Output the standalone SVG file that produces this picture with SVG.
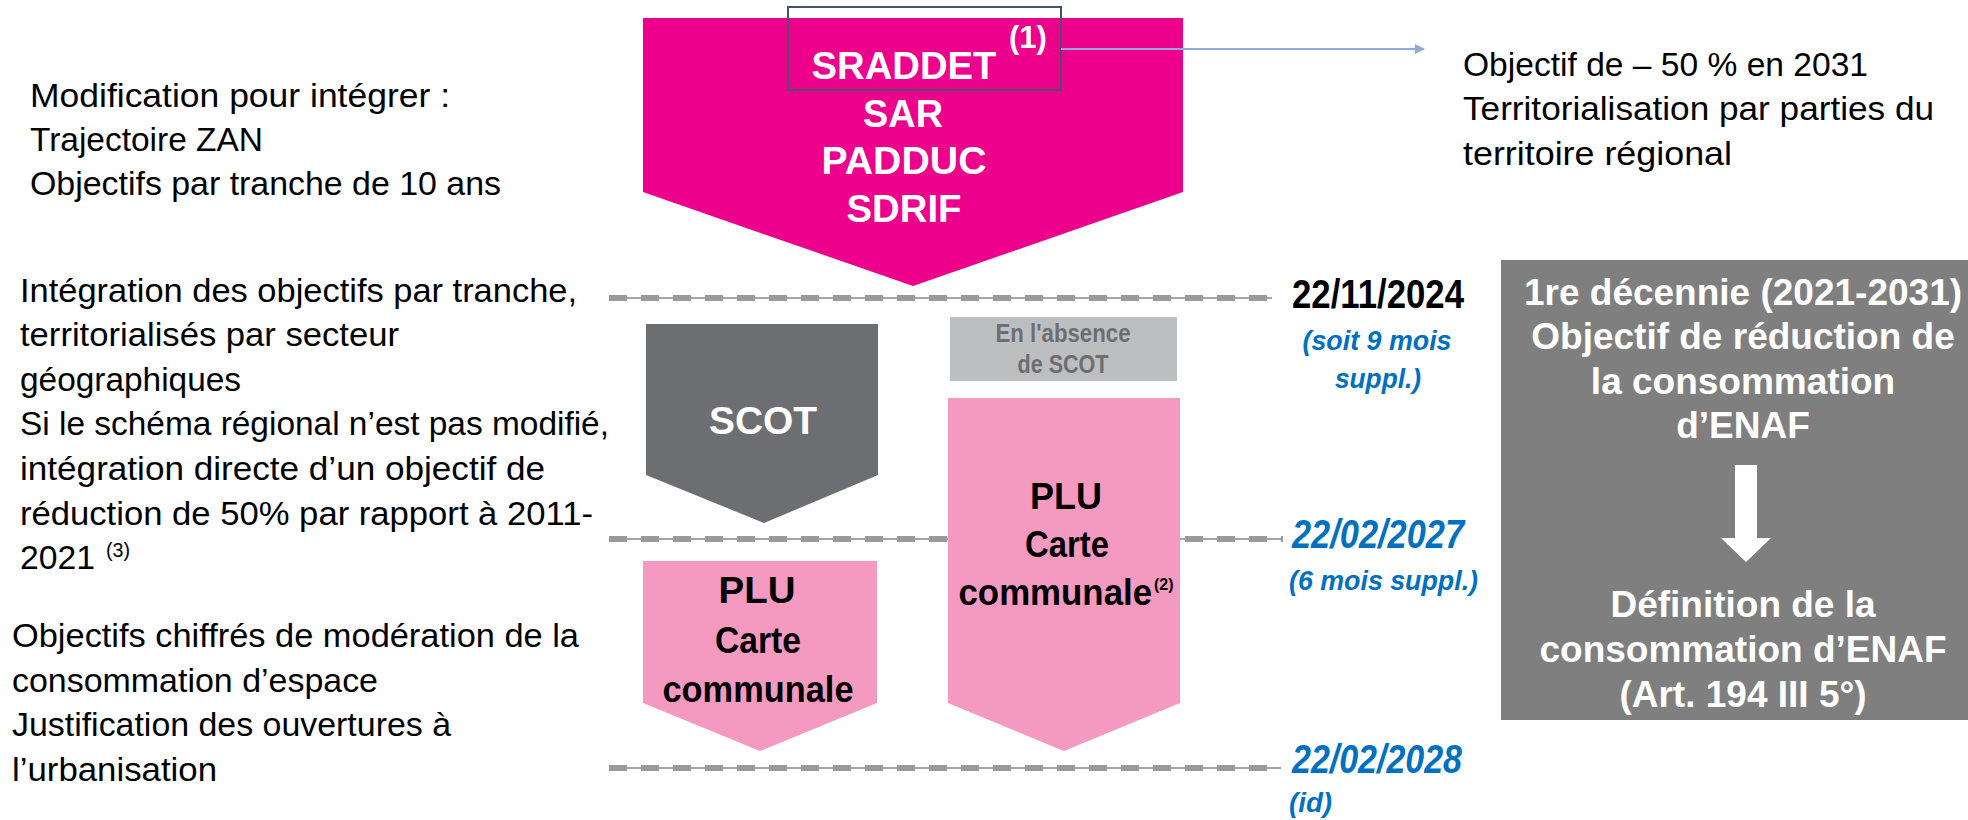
<svg xmlns="http://www.w3.org/2000/svg" width="1968" height="820" viewBox="0 0 1968 820">
<style>
.body{font-family:"Liberation Sans",Arial,sans-serif;font-size:34px;fill:#000}
.sup{font-family:"Liberation Sans",Arial,sans-serif;font-size:21px;fill:#000}
.lbl{font-family:"Liberation Sans",Arial,sans-serif;font-weight:bold;text-anchor:middle}
.w38{font-size:38px;fill:#fff}
.k37{font-size:37px;fill:#000}
.abs{font-size:25px;fill:#6D6E71}
.date{font-family:"Liberation Sans",Arial,sans-serif;font-weight:bold;font-size:40px}
.blue{fill:#0070C0;font-style:italic}
.note{font-family:"Liberation Sans",Arial,sans-serif;font-weight:bold;font-style:italic;font-size:28px;fill:#0070C0}
.box{font-family:"Liberation Sans",Arial,sans-serif;font-weight:bold;font-size:37px;fill:#fff;text-anchor:middle}
.dl{stroke:#A6A6A6;stroke-width:2;fill:none}
.dd{stroke:#9A9A9A;stroke-width:6;stroke-dasharray:18 14;fill:none}
</style>
<defs>
<marker id="ah" markerWidth="10" markerHeight="10" refX="9" refY="5" orient="auto" markerUnits="userSpaceOnUse" viewBox="0 0 10 10">
<path d="M0,0 L10,5 L0,10 z" fill="#8FAADC"/>
</marker>
</defs>
<rect width="1968" height="820" fill="#fff"/>

<g id="timeline">
<line class="dl" x1="609" y1="298" x2="1272" y2="298"/>
<line class="dd" x1="609" y1="298" x2="1272" y2="298"/>
<line class="dl" x1="609" y1="539" x2="1283" y2="539"/>
<line class="dd" x1="609" y1="539" x2="1283" y2="539"/>
<line class="dl" x1="609" y1="768" x2="1281" y2="768"/>
<line class="dd" x1="609" y1="768" x2="1281" y2="768"/>
</g>

<g id="left-text-1">
<text class="body" x="30" y="107" textLength="420" lengthAdjust="spacingAndGlyphs">Modification pour intégrer :</text>
<text class="body" x="30" y="151" textLength="233" lengthAdjust="spacingAndGlyphs">Trajectoire ZAN</text>
<text class="body" x="30" y="195" textLength="471" lengthAdjust="spacingAndGlyphs">Objectifs par tranche de 10 ans</text>
</g>

<g id="left-text-2">
<text class="body" x="20" y="302" textLength="557" lengthAdjust="spacingAndGlyphs">Intégration des objectifs par tranche,</text>
<text class="body" x="20" y="346" textLength="379" lengthAdjust="spacingAndGlyphs">territorialisés par secteur</text>
<text class="body" x="20" y="391" textLength="221" lengthAdjust="spacingAndGlyphs">géographiques</text>
<text class="body" x="20" y="435" textLength="589" lengthAdjust="spacingAndGlyphs">Si le schéma régional n’est pas modifié,</text>
<text class="body" x="20" y="480" textLength="525" lengthAdjust="spacingAndGlyphs">intégration directe d’un objectif de</text>
<text class="body" x="20" y="525" textLength="573" lengthAdjust="spacingAndGlyphs">réduction de 50% par rapport à 2011-</text>
<text class="body" x="20" y="569" textLength="75" lengthAdjust="spacingAndGlyphs">2021</text>
<text class="sup" x="106" y="557" textLength="24" lengthAdjust="spacingAndGlyphs">(3)</text>
</g>

<g id="left-text-3">
<text class="body" x="12" y="647" textLength="567" lengthAdjust="spacingAndGlyphs">Objectifs chiffrés de modération de la</text>
<text class="body" x="12" y="692" textLength="366" lengthAdjust="spacingAndGlyphs">consommation d’espace</text>
<text class="body" x="12" y="736" textLength="439" lengthAdjust="spacingAndGlyphs">Justification des ouvertures à</text>
<text class="body" x="12" y="781" textLength="205" lengthAdjust="spacingAndGlyphs">l’urbanisation</text>
</g>

<g id="right-text">
<text class="body" x="1463" y="76" textLength="405" lengthAdjust="spacingAndGlyphs">Objectif de – 50 % en 2031</text>
<text class="body" x="1463" y="120" textLength="471" lengthAdjust="spacingAndGlyphs">Territorialisation par parties du</text>
<text class="body" x="1463" y="165" textLength="269" lengthAdjust="spacingAndGlyphs">territoire régional</text>
</g>

<g id="node-sraddet">
<polygon points="643,18 1183,18 1183,192 913,286 643,192" fill="#EC008C"/>
<text class="lbl w38" x="904" y="79" textLength="185" lengthAdjust="spacingAndGlyphs">SRADDET</text>
<text class="lbl w38" x="903" y="127" textLength="80" lengthAdjust="spacingAndGlyphs">SAR</text>
<text class="lbl w38" x="904" y="174" textLength="165" lengthAdjust="spacingAndGlyphs">PADDUC</text>
<text class="lbl w38" x="904" y="222" textLength="115" lengthAdjust="spacingAndGlyphs">SDRIF</text>
<text class="lbl" x="1028" y="48" style="font-size:31px;fill:#fff">(1)</text>
<rect x="788" y="7" width="273" height="83" fill="none" stroke="#44546A" stroke-width="2"/>
</g>

<g id="node-scot">
<polygon points="646,324 878,324 878,475 764,523 646,475" fill="#6D6E71"/>
<text class="lbl w38" x="763" y="434" textLength="108" lengthAdjust="spacingAndGlyphs">SCOT</text>
</g>

<g id="node-absence">
<rect x="950" y="317" width="227" height="64" fill="#BCBEC0"/>
<text class="lbl abs" x="1063" y="342" textLength="135" lengthAdjust="spacingAndGlyphs">En l'absence</text>
<text class="lbl abs" x="1063" y="373" textLength="91" lengthAdjust="spacingAndGlyphs">de SCOT</text>
</g>

<g id="node-plu-direct">
<polygon points="948,398 1180,398 1180,703 1064,751 948,703" fill="#F49AC1"/>
<text class="lbl k37" x="1066" y="509" textLength="72" lengthAdjust="spacingAndGlyphs">PLU</text>
<text class="lbl k37" x="1067" y="557" textLength="84" lengthAdjust="spacingAndGlyphs">Carte</text>
<text class="lbl k37" x="1066" y="605" textLength="215" lengthAdjust="spacingAndGlyphs">communale<tspan dx="2" dy="-15" style="font-size:17px">(2)</tspan></text>
</g>

<g id="node-plu">
<polygon points="643,561 877,561 877,703 760,751 643,703" fill="#F49AC1"/>
<text class="lbl k37" x="757" y="603" textLength="77" lengthAdjust="spacingAndGlyphs">PLU</text>
<text class="lbl k37" x="758" y="653" textLength="86" lengthAdjust="spacingAndGlyphs">Carte</text>
<text class="lbl k37" x="758" y="702" textLength="191" lengthAdjust="spacingAndGlyphs">communale</text>
</g>

<g id="dates">
<text class="date" x="1292" y="308" textLength="172" lengthAdjust="spacingAndGlyphs">22/11/2024</text>
<text class="note" x="1377" y="350" text-anchor="middle" textLength="149" lengthAdjust="spacingAndGlyphs">(soit 9 mois</text>
<text class="note" x="1378" y="388" text-anchor="middle" textLength="86" lengthAdjust="spacingAndGlyphs">suppl.)</text>
<text class="date blue" x="1292" y="548" textLength="172" lengthAdjust="spacingAndGlyphs">22/02/2027</text>
<text class="note" x="1289" y="590" textLength="189" lengthAdjust="spacingAndGlyphs">(6 mois suppl.)</text>
<text class="date blue" x="1292" y="773" textLength="170" lengthAdjust="spacingAndGlyphs">22/02/2028</text>
<text class="note" x="1289" y="812" textLength="43" lengthAdjust="spacingAndGlyphs">(id)</text>
</g>

<g id="node-decennie">
<rect x="1501" y="260" width="467" height="460" fill="#7F7F7F"/>
<text class="box" x="1743" y="305">1re décennie (2021-2031)</text>
<text class="box" x="1743" y="349">Objectif de réduction de</text>
<text class="box" x="1743" y="394">la consommation</text>
<text class="box" x="1743" y="438">d’ENAF</text>
<polygon points="1735,465 1757,465 1757,538 1771,538 1746,562 1721,538 1735,538" fill="#fff"/>
<text class="box" x="1743" y="617">Définition de la</text>
<text class="box" x="1743" y="662">consommation d’ENAF</text>
<text class="box" x="1743" y="707">(Art. 194 III 5°)</text>
</g>

<g id="connectors">
<line x1="1061" y1="49" x2="1424" y2="49" stroke="#8FAADC" stroke-width="2" marker-end="url(#ah)"/>
</g>
</svg>
